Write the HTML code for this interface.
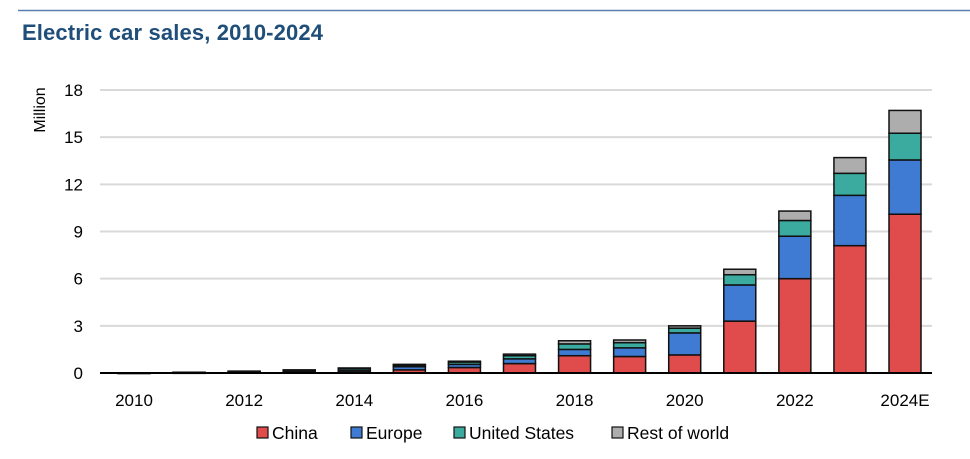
<!DOCTYPE html>
<html><head><meta charset="utf-8"><style>
body{margin:0;background:#fff;font-family:"Liberation Sans",Arial,sans-serif;}
svg text{font-family:"Liberation Sans",Arial,sans-serif;}
</style></head><body>
<svg id="chart" width="970" height="454" viewBox="0 0 970 454" xmlns="http://www.w3.org/2000/svg">
<line x1="18" y1="10.5" x2="970" y2="10.5" stroke="#5b7fb5" stroke-width="1.5"/>
<text x="22" y="40" font-size="22" font-weight="bold" fill="#1f4e79" textLength="301">Electric car sales, 2010-2024</text>
<text transform="translate(45,110) rotate(-90)" text-anchor="middle" font-size="16" fill="#000">Million</text>
<g id="grid"></g><g id="bars"></g><g id="xlabels"></g>
<line x1="100" y1="373" x2="932" y2="373" stroke="#000" stroke-width="2"/>
<g id="legend"></g>
</svg>
<script>
const years=["2010","2011","2012","2013","2014","2015","2016","2017","2018","2019","2020","2021","2022","2023","2024E"];
const china=[0.005,0.01,0.02,0.05,0.07,0.2,0.35,0.6,1.1,1.05,1.15,3.3,6.0,8.1,10.1];
const europe=[0.002,0.01,0.03,0.06,0.1,0.2,0.2,0.3,0.4,0.55,1.4,2.3,2.7,3.2,3.45];
const us=[0.003,0.02,0.05,0.07,0.12,0.1,0.15,0.2,0.35,0.33,0.3,0.65,1.0,1.4,1.7];
const row=[0.001,0.01,0.02,0.02,0.03,0.05,0.05,0.1,0.2,0.17,0.15,0.35,0.6,1.0,1.45];
const yTicks=[0,3,6,9,12,15,18];
const xLabelYears=["2010","2012","2014","2016","2018","2020","2022","2024E"];
const seriesNames=["China","Europe","United States","Rest of world"];
const colors=["#e04b4b","#3f7bd2","#3aab9e","#adadad"];
const NS="http://www.w3.org/2000/svg";
const y0=373,yTop=90,yMax=18;
function yScale(v){return y0-(v/yMax)*(y0-yTop);}
function xScale(i){return 134+i*(905-134)/(years.length-1);}
const bw=32;
const grid=document.getElementById('grid');
yTicks.forEach(t=>{
 if(t>0){const l=document.createElementNS(NS,'line');
 l.setAttribute('x1',100);l.setAttribute('x2',932);l.setAttribute('y1',yScale(t));l.setAttribute('y2',yScale(t));
 l.setAttribute('stroke','#d9d9d9');l.setAttribute('stroke-width','2');
 
 
 grid.appendChild(l);}
 const tx=document.createElementNS(NS,'text');
 tx.setAttribute('x',83);tx.setAttribute('y',yScale(t)+6);tx.setAttribute('text-anchor','end');tx.setAttribute('font-size','17');
 tx.textContent=t;
 
 
 grid.appendChild(tx);
});
const bars=document.getElementById('bars');
const series=[china,europe,us,row];
years.forEach((yr,i)=>{
 let cum=0;
 series.forEach((s,k)=>{
  const v=s[i];const yb=yScale(cum);cum+=v;const yt=yScale(cum);
  const r=document.createElementNS(NS,'rect');
  r.setAttribute('x',xScale(i)-bw/2);r.setAttribute('y',yt);r.setAttribute('width',bw);r.setAttribute('height',Math.max(yb-yt,0.5));
  r.setAttribute('fill',colors[k]);r.setAttribute('stroke','#111');r.setAttribute('stroke-width','1.5');
  
  
  bars.appendChild(r);
 });
});
const xl=document.getElementById('xlabels');
xLabelYears.forEach(yr=>{
 const i=years.indexOf(yr);
 const tx=document.createElementNS(NS,'text');
 tx.setAttribute('x',xScale(i));tx.setAttribute('y',406);tx.setAttribute('text-anchor','middle');tx.setAttribute('font-size','17');
 tx.textContent=yr;
 
 
 xl.appendChild(tx);
});
const lg=document.getElementById('legend');
const lx=[257,351,454,612];
seriesNames.forEach((n,k)=>{
 const g=document.createElementNS(NS,'g');
 
 
 const r=document.createElementNS(NS,'rect');
 r.setAttribute('x',lx[k]);r.setAttribute('y',427);r.setAttribute('width',11);r.setAttribute('height',11);
 r.setAttribute('fill',colors[k]);r.setAttribute('stroke','#111');r.setAttribute('stroke-width','1.2');
 g.appendChild(r);
 const t=document.createElementNS(NS,'text');
 t.setAttribute('x',lx[k]+15);t.setAttribute('y',439);t.setAttribute('font-size','17.5');
 t.textContent=n;g.appendChild(t);
 lg.appendChild(g);
});
</script>
</body></html>
